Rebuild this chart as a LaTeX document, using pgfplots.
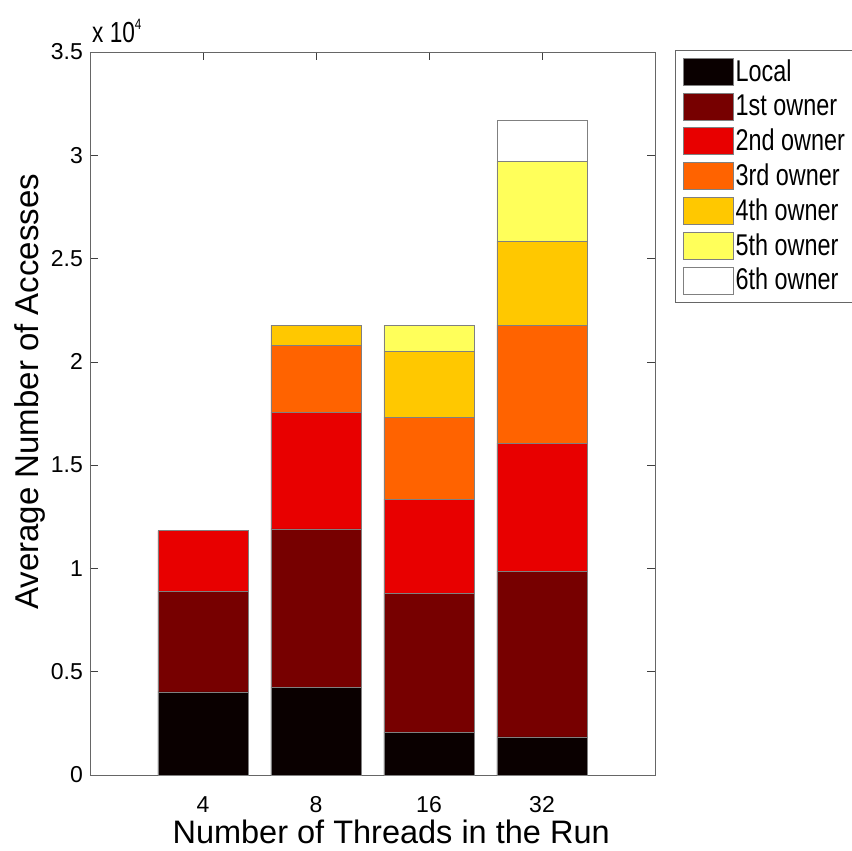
\documentclass[border=0pt]{standalone}
\usepackage{pgfplots}
\pgfplotsset{compat=1.18}
\usepackage{fontspec}
\setmainfont{Liberation Sans}
\newfontfamily\legfont{Liberation Sans}[FakeStretch=0.78]
\usetikzlibrary{calc}
\definecolor{cLocal}{HTML}{0A0000}
\definecolor{cFirst}{HTML}{770000}
\definecolor{cSecond}{HTML}{E80000}
\definecolor{cThird}{HTML}{FF6300}
\definecolor{cFourth}{HTML}{FFC800}
\definecolor{cFifth}{HTML}{FFFF5A}
\definecolor{cSixth}{HTML}{FFFFFF}
\definecolor{edge}{HTML}{808080}
\begin{document}
\begin{tikzpicture}
\begin{axis}[name=ax,
  scale only axis, width=565pt, height=723pt,
  xmin=0, xmax=5, ymin=0, ymax=35000,
  ybar stacked, bar width=0.8,
  xtick={1,2,3,4}, xticklabels={4,8,16,32},
  ytick={0,5000,10000,15000,20000,25000,30000,35000},
  yticklabels={0,0.5,1,1.5,2,2.5,3,3.5},
  scaled y ticks=false,
  /pgf/number format/assume math mode=true,
  tick align=inside, major tick length=8pt,
  tick style={black!75, line width=0.6pt},
  axis line style={black!60, line width=0.8pt},
  ticklabel style={font=\fontsize{23}{26}\selectfont},
  xticklabel style={anchor=base, yshift=-37pt},
  yticklabel style={anchor=east, xshift=-7pt, inner sep=0pt},
  xlabel={Number of Threads in the Run},
  ylabel={Average Number of Accesses},
  label style={font=\fontsize{33}{38}\selectfont},
  xlabel style={at={(axis description cs:0.533,0)}, anchor=base, yshift=-68pt, font=\fontsize{32.5}{36}\selectfont},
  ylabel style={at={(axis description cs:-0.092,0.53)}, anchor=base},
  legend style={at={(1.035,1.003)}, anchor=north west, draw=black!60, line width=0.6pt,
    font=\legfont\fontsize{30}{34}\selectfont, row sep=3.8pt, inner xsep=8pt, inner ysep=6pt,
    nodes={inner sep=2pt, text height=23pt, text depth=4pt},
    cells={anchor=base west}},
  legend image code/.code={\draw[#1, draw=edge] (0pt,-4pt) rectangle (50pt,23pt);},
  every axis plot/.append style={draw=edge, line width=0.6pt},
]
\addplot[fill=cLocal] coordinates {(1,4020) (2,4260) (3,2080) (4,1840)};
\addplot[fill=cFirst] coordinates {(1,4880) (2,7650) (3,6730) (4,8030)};
\addplot[fill=cSecond] coordinates {(1,2930) (2,5660) (3,4550) (4,6200)};
\addplot[fill=cThird] coordinates {(1,0) (2,3240) (3,3970) (4,5710)};
\addplot[fill=cFourth] coordinates {(1,0) (2,970) (3,3190) (4,4070)};
\addplot[fill=cFifth] coordinates {(1,0) (2,0) (3,1260) (4,3870)};
\addplot[fill=cSixth] coordinates {(1,0) (2,0) (3,0) (4,1980)};
\legend{Local,1st owner,2nd owner,3rd owner,4th owner,5th owner,6th owner}
\end{axis}
\node[anchor=base west, font=\legfont\fontsize{29}{32}\selectfont, inner sep=0pt] at ([xshift=2pt,yshift=9pt]ax.north west) {x 10\raisebox{13pt}{\fontsize{15}{17}\selectfont 4}};
\pgfresetboundingbox
\path ($(ax.south west)+(-90pt,-75pt)$) rectangle ($(ax.north east)+(197pt,52pt)$);
\end{tikzpicture}
\end{document}
